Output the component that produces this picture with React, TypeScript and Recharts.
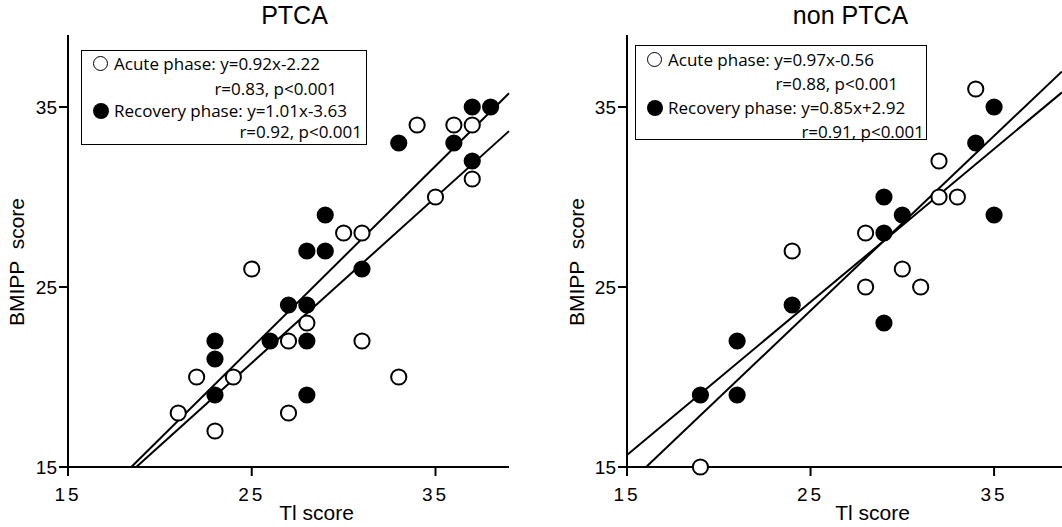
import React from "react";
import { ScatterChart, Scatter, XAxis, YAxis, ReferenceLine } from "recharts";

// PTCA group (Tl score, BMIPP score)
const ptcaAcute = [
  { x: 34, y: 34 }, { x: 36, y: 34 }, { x: 37, y: 34 }, { x: 37, y: 31 },
  { x: 35, y: 30 }, { x: 30, y: 28 }, { x: 31, y: 28 }, { x: 25, y: 26 },
  { x: 28, y: 23 }, { x: 27, y: 22 }, { x: 31, y: 22 }, { x: 22, y: 20 },
  { x: 24, y: 20 }, { x: 33, y: 20 }, { x: 21, y: 18 }, { x: 27, y: 18 },
  { x: 23, y: 17 },
];
const ptcaRecovery = [
  { x: 37, y: 35 }, { x: 38, y: 35 }, { x: 33, y: 33 }, { x: 36, y: 33 },
  { x: 37, y: 32 }, { x: 29, y: 29 }, { x: 28, y: 27 }, { x: 29, y: 27 },
  { x: 31, y: 26 }, { x: 27, y: 24 }, { x: 28, y: 24 }, { x: 23, y: 22 },
  { x: 26, y: 22 }, { x: 28, y: 22 }, { x: 23, y: 21 }, { x: 23, y: 19 },
  { x: 28, y: 19 },
];

// non PTCA group
const nonAcute = [
  { x: 34, y: 36 }, { x: 32, y: 32 }, { x: 32, y: 30 }, { x: 33, y: 30 },
  { x: 28, y: 28 }, { x: 24, y: 27 }, { x: 30, y: 26 }, { x: 28, y: 25 },
  { x: 31, y: 25 }, { x: 19, y: 15 },
];
const nonRecovery = [
  { x: 35, y: 35 }, { x: 34, y: 33 }, { x: 29, y: 30 }, { x: 30, y: 29 },
  { x: 35, y: 29 }, { x: 29, y: 28 }, { x: 24, y: 24 }, { x: 29, y: 23 },
  { x: 21, y: 22 }, { x: 19, y: 19 }, { x: 21, y: 19 },
];

// regression lines: y = slope * x + intercept
const ptcaFits = [
  { slope: 0.92, intercept: -2.22 },
  { slope: 1.01, intercept: -3.63 },
];
const nonFits = [
  { slope: 0.97, intercept: -0.56 },
  { slope: 0.85, intercept: 2.92 },
];

const ptcaLegend = [
  "Acute phase: y=0.92x-2.22", "r=0.83, p<0.001",
  "Recovery phase: y=1.01x-3.63", "r=0.92, p<0.001",
];
const nonLegend = [
  "Acute phase: y=0.97x-0.56", "r=0.88, p<0.001",
  "Recovery phase: y=0.85x+2.92", "r=0.91, p<0.001",
];

const axisTicks = [15, 25, 35];
const yDomain = [15, 39];

const OpenDot = (p: any) => (
  <circle cx={p.cx} cy={p.cy} r={7.6} fill="#fff" stroke="#000" strokeWidth={2} />
);
const FilledDot = (p: any) => <circle cx={p.cx} cy={p.cy} r={8.6} fill="#000" />;

const segmentFor = (f: { slope: number; intercept: number }, xMin: number, xMax: number) => {
  const [yMin, yMax] = yDomain;
  let x0 = xMin;
  if (f.slope * x0 + f.intercept < yMin) x0 = (yMin - f.intercept) / f.slope;
  let x1 = xMax;
  if (f.slope * x1 + f.intercept > yMax) x1 = (yMax - f.intercept) / f.slope;
  return [
    { x: x0, y: f.slope * x0 + f.intercept },
    { x: x1, y: f.slope * x1 + f.intercept },
  ];
};

const tickFont = { fontFamily: "'Liberation Sans', Arial, sans-serif", fontSize: 19, fill: "#000" };

interface LegendProps {
  lines: string[];
  left: number;
  top: number;
  width: number;
  rows: number[];
  rightPad: [number, number];
}

const LegendBox = ({ lines, left, top, width, rows, rightPad }: LegendProps) => {
  const txt: React.CSSProperties = {
    position: "absolute", fontFamily: "'Open Sans', sans-serif", fontSize: 17,
    lineHeight: "18px", height: 18, whiteSpace: "nowrap", color: "#000", transform: "translateY(-9px)",
  };
  const dot = (filled: boolean, cy: number) => (
    <div style={{
      position: "absolute", left: 11, top: cy - 8, width: filled ? 16 : 13, height: filled ? 16 : 13,
      borderRadius: "50%", background: filled ? "#000" : "#fff",
      border: filled ? "none" : "1.6px solid #000",
    }} />
  );
  return (
    <div style={{
      position: "absolute", left, top, width, height: 95,
      border: "1.5px solid #000", boxSizing: "border-box", background: "#fff",
    }}>
      {dot(false, rows[0])}
      <div style={{ ...txt, left: 32, top: rows[0] }}>{lines[0]}</div>
      <div style={{ ...txt, right: rightPad[0], top: rows[1] }}>{lines[1]}</div>
      {dot(true, rows[2])}
      <div style={{ ...txt, left: 32, top: rows[2] }}>{lines[2]}</div>
      <div style={{ ...txt, right: rightPad[1], top: rows[3] }}>{lines[3]}</div>
    </div>
  );
};

interface PanelProps {
  title: string;
  acute: { x: number; y: number }[];
  recovery: { x: number; y: number }[];
  fits: { slope: number; intercept: number }[];
  left: number;
  width: number;
  xMax: number;
  rightMargin: number;
  yAxisWidth: number;
}

const Panel = ({ title, acute, recovery, fits, left, width, xMax, rightMargin, yAxisWidth }: PanelProps) => {
  const plotLeft = yAxisWidth;
  const plotRight = width - rightMargin;
  return (
    <div style={{ position: "absolute", left, top: 0, width, height: 527 }}>
      <ScatterChart width={width} height={527} margin={{ top: 35, right: rightMargin, bottom: 0, left: 0 }}>
        <XAxis
          type="number" dataKey="x" domain={[15, xMax]} ticks={axisTicks}
          height={60} tickSize={9} tickMargin={12}
          axisLine={{ stroke: "#000", strokeWidth: 2 }} tickLine={{ stroke: "#000", strokeWidth: 2 }}
          tick={{ ...tickFont, letterSpacing: 3 }}
        />
        <YAxis
          type="number" dataKey="y" domain={yDomain} ticks={axisTicks}
          width={yAxisWidth} tickSize={9} tickMargin={2}
          axisLine={{ stroke: "#000", strokeWidth: 2 }} tickLine={{ stroke: "#000", strokeWidth: 2 }}
          tick={tickFont}
        />
        <Scatter data={acute} shape={OpenDot} isAnimationActive={false} />
        <Scatter data={recovery} shape={FilledDot} isAnimationActive={false} />
        {fits.map((f, i) => (
          <ReferenceLine key={i} segment={segmentFor(f, 15, xMax)} stroke="#000" strokeWidth={2} ifOverflow="visible" />
        ))}
      </ScatterChart>
      <div style={{
        position: "absolute", top: 0, left: (plotLeft + plotRight) / 2 + 6, transform: "translateX(-50%)",
        fontFamily: "'Liberation Sans', Arial, sans-serif", fontSize: 25, lineHeight: "30px", whiteSpace: "nowrap",
      }}>{title}</div>
      <div style={{
        position: "absolute", top: 500, left: (plotLeft + plotRight) / 2 + 28, transform: "translateX(-50%)",
        fontFamily: "'Liberation Sans', Arial, sans-serif", fontSize: 21, lineHeight: "26px", whiteSpace: "nowrap",
      }}>Tl score</div>
      <div style={{
        position: "absolute", top: 262, left: 17, transform: "translate(-50%, -50%) rotate(-90deg)",
        fontFamily: "'Liberation Sans', Arial, sans-serif", fontSize: 21, lineHeight: "26px", whiteSpace: "pre",
      }}>{"BMIPP  score"}</div>
    </div>
  );
};

export default function App() {
  return (
    <div style={{ position: "fixed", left: 0, top: 0, width: 1062, height: 527, background: "#fff", overflow: "hidden" }}>
      <Panel title="PTCA" acute={ptcaAcute} recovery={ptcaRecovery} fits={ptcaFits}
        left={0} width={530} xMax={39} rightMargin={21} yAxisWidth={68} />
      <Panel title="non PTCA" acute={nonAcute} recovery={nonRecovery} fits={nonFits}
        left={560} width={502} xMax={38.7} rightMargin={0} yAxisWidth={67} />
      <LegendBox lines={ptcaLegend} left={81} top={50} width={286} rows={[13, 38, 60, 81]} rightPad={[29, 4]} />
      <LegendBox lines={nonLegend} left={635} top={45} width={292} rows={[14, 38, 62, 86]} rightPad={[28, 2]} />
    </div>
  );
}
